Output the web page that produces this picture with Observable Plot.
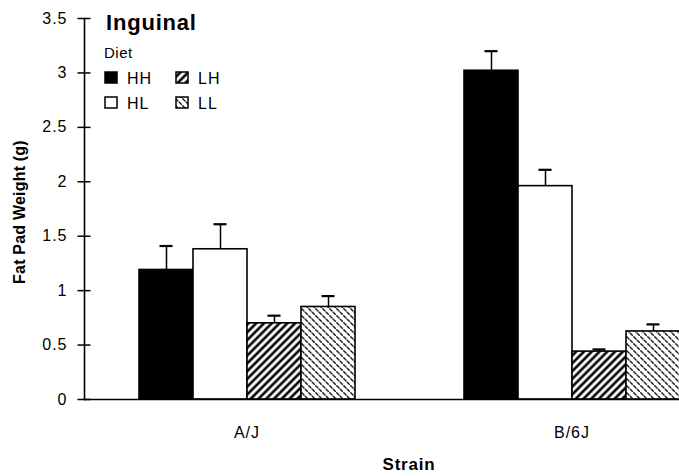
<!DOCTYPE html>
<html>
<head>
<meta charset="utf-8">
<script src="https://cdn.jsdelivr.net/npm/d3@7"></script>
<script src="https://cdn.jsdelivr.net/npm/@observablehq/plot@0.6"></script>
<style>
  html, body { margin: 0; padding: 0; background: #fff; }
  #wrap { position: relative; width: 679px; height: 476px; overflow: hidden; background: #fff; }
  #wrap svg { max-width: none !important; }
  #wrap svg text { font-family: "Liberation Sans", Arial, sans-serif; }
  .tick-text text { letter-spacing: 1px; }
  #overlay { position: absolute; left: 0; top: 0; pointer-events: none; }
</style>
</head>
<body>
<svg width="0" height="0" style="position:absolute">
  <defs>
    <pattern id="hatch" patternUnits="userSpaceOnUse" width="5.5" height="5.5" patternTransform="rotate(45)">
      <rect width="5.5" height="5.5" fill="#fff"></rect>
      <line x1="2.75" y1="-1" x2="2.75" y2="6.5" stroke="#000" stroke-width="2.6"></line>
    </pattern>
    <pattern id="dots" patternUnits="userSpaceOnUse" width="7" height="7">
      <rect width="7" height="7" fill="#fff"></rect>
      <line x1="0.8" y1="0.8" x2="3.0" y2="3.0" stroke="#222" stroke-width="1.5" stroke-linecap="round"></line>
      <line x1="4.3" y1="4.3" x2="6.5" y2="6.5" stroke="#222" stroke-width="1.5" stroke-linecap="round"></line>
    </pattern>
  </defs>
</svg>
<div id="wrap"></div>
<script>
// ---- data ----
const strains = ["A/J", "B/6J"];
const diets = ["HH", "HL", "LH", "LL"];
const meansAJ = [1.19, 1.38, 0.70, 0.85];
const errsAJ  = [0.22, 0.23, 0.07, 0.10];
const meansB6 = [3.02, 1.96, 0.44, 0.625];
const errsB6  = [0.18, 0.15, 0.02, 0.065];
const yTicks = [0, 0.5, 1, 1.5, 2, 2.5, 3, 3.5];
const dietFills = ["#000", "#fff", "url(#hatch)", "url(#dots)"];

const data = [];
diets.forEach((d, i) => {
  data.push({strain: strains[0], diet: d, value: meansAJ[i], err: errsAJ[i]});
  data.push({strain: strains[1], diet: d, value: meansB6[i], err: errsB6[i]});
});

const chart = Plot.plot({
  width: 734,
  height: 476,
  marginLeft: 84,
  marginRight: 0,
  marginTop: 18,
  marginBottom: 77,
  style: {fontFamily: "Liberation Sans, Arial, sans-serif", fontSize: "16px", background: "#fff", color: "#000", maxWidth: "none"},
  fx: {domain: strains, padding: 0, label: null},
  x: {domain: diets, paddingInner: 0, paddingOuter: 1, axis: null},
  y: {domain: [0, 3.5]},
  color: {domain: diets, range: dietFills},
  marks: [
    Plot.ruleX(data, {fx: "strain", x: "diet", y1: "value", y2: d => d.value + d.err, stroke: "#000", strokeWidth: 1.5}),
    Plot.tickY(data, {fx: "strain", x: "diet", y: d => d.value + d.err, stroke: "#000", strokeWidth: 2.2, insetLeft: 20.5, insetRight: 20.5}),
    Plot.barY(data, {fx: "strain", x: "diet", y: "value", fill: "diet", stroke: "#000", strokeWidth: 1.6}),
    Plot.ruleY([0], {stroke: "#000", strokeWidth: 1.5}),
    Plot.frame({anchor: "left", facetAnchor: "left", stroke: "#000", strokeWidth: 1.6}),
    Plot.axisY({ticks: yTicks, tickFormat: d => String(d), tickSize: 13, dx: 6.5, tickPadding: 10.5, label: null, fontSize: 16, strokeWidth: 1.5, className: "tick-text"}),
    Plot.axisFx({anchor: "bottom", tickSize: 0, tickPadding: 27, label: null, fontSize: 16, className: "tick-text"})
  ]
});

const wrap = document.getElementById("wrap");
wrap.appendChild(chart);

// ---- overlay: title, legend, axis titles ----
const ov = d3.select(wrap).append("svg")
  .attr("id", "overlay").attr("width", 679).attr("height", 476);
ov.append("text").attr("x", 106).attr("y", 30)
  .attr("font-size", 22).attr("font-weight", "bold").attr("letter-spacing", "0.8px").text("Inguinal");
ov.append("text").attr("x", 104).attr("y", 58)
  .attr("font-size", 15).attr("letter-spacing", "0.5px").text("Diet");

const legendPos = [
  {x: 105, y: 72}, {x: 105, y: 97}, {x: 176, y: 72}, {x: 176, y: 97}
];
diets.forEach((d, i) => {
  const p = legendPos[i];
  ov.append("rect").attr("x", p.x).attr("y", p.y).attr("width", 12).attr("height", 11)
    .attr("fill", dietFills[i]).attr("stroke", "#000").attr("stroke-width", 1.5);
  ov.append("text").attr("x", p.x + 22).attr("y", p.y + 11.5)
    .attr("font-size", 16).attr("letter-spacing", "1px").text(d);
});

ov.append("text").attr("x", 409).attr("y", 470).attr("text-anchor", "middle")
  .attr("font-size", 17).attr("font-weight", "bold").attr("letter-spacing", "0.8px").text("Strain");
ov.append("text").attr("transform", "translate(25,212) rotate(-90)").attr("text-anchor", "middle")
  .attr("font-size", 16).attr("font-weight", "bold").attr("letter-spacing", "0.2px").text("Fat Pad Weight (g)");
</script>
</body>
</html>
